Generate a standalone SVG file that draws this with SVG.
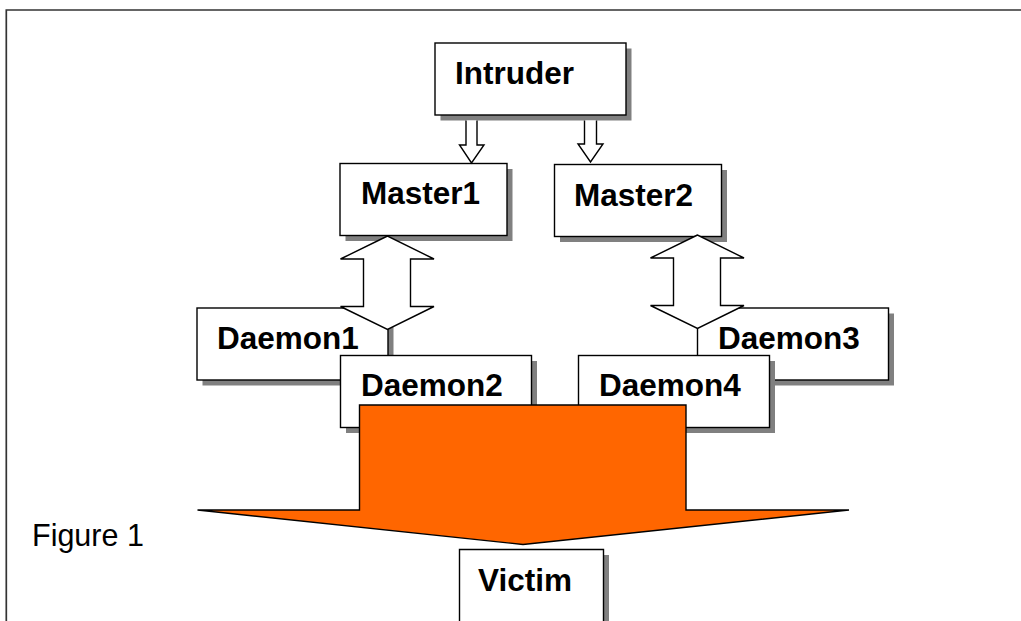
<svg xmlns="http://www.w3.org/2000/svg" width="1021" height="621" viewBox="0 0 1021 621">
<style>
.shadow{fill:#808080}
.box{fill:#fff;stroke:#000;stroke-width:1.4}
.arrow{fill:#fff;stroke:#000;stroke-width:1.4;stroke-linejoin:miter}
.label{font-family:"Liberation Sans",Arial,sans-serif;font-weight:bold;font-size:31.5px;fill:#000}
</style>
<rect width="1021" height="621" fill="#fff"/>
<g id="frame"><path d="M6.300 621V10H1021" fill="none" stroke="#333" stroke-width="1.700"/></g>
<g id="daemon1"><rect class="shadow" x="202.500" y="313.500" width="191" height="72"/><rect class="box" x="197" y="308" width="191" height="72"/><text class="label" x="217" y="349">Daemon1</text></g>
<g id="daemon3"><rect class="shadow" x="703" y="313.500" width="191" height="72"/><rect class="box" x="697.500" y="308" width="191" height="72"/><text class="label" x="718" y="349">Daemon3</text></g>
<g id="daemon2"><rect class="shadow" x="346" y="361" width="191" height="72"/><rect class="box" x="340.500" y="355.500" width="191" height="72"/><text class="label" x="361" y="396">Daemon2</text></g>
<g id="daemon4"><rect class="shadow" x="584" y="361" width="191" height="72"/><rect class="box" x="578.500" y="355.500" width="191" height="72"/><text class="label" x="599" y="396">Daemon4</text></g>
<g id="intruder"><rect class="shadow" x="440.500" y="48.500" width="191" height="72"/><rect class="box" x="435" y="43" width="191" height="72"/><text class="label" x="455" y="84">Intruder</text></g>
<g id="master1"><rect class="shadow" x="345.500" y="169" width="167" height="72"/><rect class="box" x="340" y="163.500" width="167" height="72"/><text class="label" x="361" y="204">Master1</text></g>
<g id="master2"><rect class="shadow" x="560" y="170" width="167" height="72"/><rect class="box" x="554.500" y="164.500" width="167" height="72"/><text class="label" x="574" y="206">Master2</text></g>
<g id="victim"><path class="shadow" d="M465 555H609V621H465Z"/><path class="box" d="M459.500 621V549.500H603.500V621"/><text class="label" x="478" y="591">Victim</text></g>
<g id="connectors">
<path class="arrow" d="M466 120.500V145H459.500L471.500 163L484 145H477V120.500"/>
<path class="arrow" d="M584.500 120.500V144H578L590.500 162L603 144H596.500V120.500"/>
<path class="arrow" d="M387.500 236L340.500 259H363.500V306.500H340.500L387.500 329.500L434 306.500H410.500V259H434Z"/>
<path class="arrow" d="M697.500 235L650.500 258H673.500V305.500H650.500L697.500 328.500L744 305.500H720.500V258H744Z"/>
<path d="M359.500 405H686V510H849L523 544.500L197.500 510H359.500Z" fill="#ff6600" stroke="#000" stroke-width="1.400"/>
</g>
<text id="figure-label" x="32" y="546" font-family="'Liberation Sans',Arial,sans-serif" font-size="30.500" fill="#000">Figure 1</text>
</svg>
